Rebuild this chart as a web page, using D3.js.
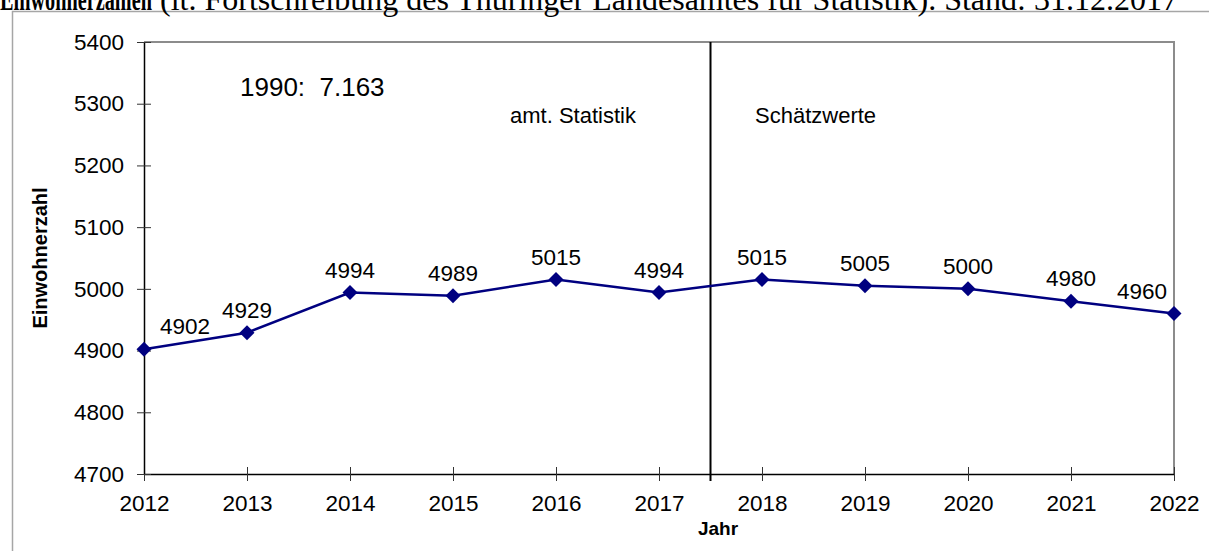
<!DOCTYPE html>
<html>
<head>
<meta charset="utf-8">
<script src="https://cdn.jsdelivr.net/npm/d3@7"></script>
<style>
  body { margin: 0; background: #fff; }
  svg { display: block; }
  text { font-family: "Liberation Sans", Arial, sans-serif; fill: #000; }
</style>
</head>
<body>
<svg id="canvas"></svg>
<script>
// data
const years = [2012, 2013, 2014, 2015, 2016, 2017, 2018, 2019, 2020, 2021, 2022]
const einwohner = [4902, 4929, 4994, 4989, 5015, 4994, 5015, 5005, 5000, 4980, 4960]
const yTicks = [4700, 4800, 4900, 5000, 5100, 5200, 5300, 5400]
const titleBold = "Einwohnerzahlen"
const titleRest = "(lt. Fortschreibung des Thüringer Landesamtes für Statistik). Stand: 31.12.2017"
const note1990 = "1990:  7.163"
const leftSection = "amt. Statistik"
const rightSection = "Schätzwerte"

// label nudges so they stay inside the frame like in the original
const labelDx = { 2012: 41, 2022: -32 }

const width = 1209
const height = 551
const margin = { top: 42, right: 35, bottom: 77, left: 144 }

let canvas = d3.select("#canvas")
canvas.attr("width", width).attr("height", height)

let xScale = d3.scaleLinear()
    .domain([years[0], years[years.length - 1]])
    .range([margin.left, width - margin.right])

let yScale = d3.scaleLinear()
    .domain([4700, 5400])
    .range([height - margin.bottom, margin.top])

let drawFrame = () => {
    // outer frame (only top and left visible)
    canvas.append("path")
        .attr("d", `M12.5,${height} L12.5,11.5 L${width},11.5`)
        .attr("fill", "none")
        .attr("stroke", "#a6a6a6")
        .attr("stroke-width", 1.5)

    // title, cut off at the top; the bold part is squeezed in the original
    canvas.append("text")
        .attr("x", 0)
        .attr("y", 10)
        .attr("font-weight", "bold")
        .attr("textLength", 152)
        .attr("lengthAdjust", "spacingAndGlyphs")
        .style("font-family", "'Liberation Serif', 'Times New Roman', serif")
        .style("font-size", "31px")
        .text(titleBold)
    canvas.append("text")
        .attr("x", 160)
        .attr("y", 10)
        .style("font-family", "'Liberation Serif', 'Times New Roman', serif")
        .style("font-size", "32px")
        .text(titleRest)

    // grey top and right border of the plot area
    canvas.append("path")
        .attr("d", `M${margin.left},${margin.top} L${width - margin.right},${margin.top} L${width - margin.right},${height - margin.bottom}`)
        .attr("fill", "none")
        .attr("stroke", "#8c8c8c")
        .attr("stroke-width", 2)
}

let drawAxes = () => {
    let xAxis = d3.axisBottom(xScale)
        .tickValues(years)
        .tickFormat(d3.format("d"))
        .tickSizeInner(7)
        .tickSizeOuter(0)
        .tickPadding(14)

    let yAxis = d3.axisLeft(yScale)
        .tickValues(yTicks)
        .tickFormat(d3.format("d"))
        .tickSizeInner(7)
        .tickSizeOuter(0)
        .tickPadding(13)

    let gx = canvas.append("g")
        .attr("transform", `translate(0, ${height - margin.bottom})`)
        .call(xAxis)
    let gy = canvas.append("g")
        .attr("transform", `translate(${margin.left}, 0)`)
        .call(yAxis)

    for (let g of [gx, gy]) {
        g.select(".domain").attr("stroke", "#000").attr("stroke-width", 1.5)
        g.selectAll(".tick line").attr("stroke", "#333")
        g.selectAll(".tick text")
            .attr("fill", "#000")
            .style("font-size", "22.5px")
            .style("font-family", "'Liberation Sans', Arial, sans-serif")
    }
    // ticks cross the axis line
    gx.selectAll(".tick line").attr("y1", -7)
    gy.selectAll(".tick line").attr("x1", 7)

    canvas.append("text")
        .attr("x", 718)
        .attr("y", 535)
        .attr("text-anchor", "middle")
        .attr("font-weight", "bold")
        .style("font-size", "19px")
        .text("Jahr")

    canvas.append("text")
        .attr("transform", `translate(47, ${(margin.top + height - margin.bottom) / 2}) rotate(-90)`)
        .attr("text-anchor", "middle")
        .attr("font-weight", "bold")
        .style("font-size", "20px")
        .text("Einwohnerzahl")
}

let drawDivider = () => {
    let xMid = (xScale(2017) + xScale(2018)) / 2
    canvas.append("line")
        .attr("x1", xMid).attr("x2", xMid)
        .attr("y1", margin.top).attr("y2", height - margin.bottom + 7)
        .attr("stroke", "#000")
        .attr("stroke-width", 2)

    canvas.append("text")
        .attr("x", 240).attr("y", 96)
        .style("font-size", "26px")
        .style("white-space", "pre")
        .text(note1990)
    canvas.append("text")
        .attr("x", 510).attr("y", 123)
        .style("font-size", "22px")
        .text(leftSection)
    canvas.append("text")
        .attr("x", 755).attr("y", 123)
        .style("font-size", "22px")
        .text(rightSection)
}

let drawLine = () => {
    let points = years.map((y, i) => ({ year: y, value: einwohner[i] }))

    let line = d3.line()
        .x(d => xScale(d.year))
        .y(d => yScale(d.value))

    canvas.append("path")
        .datum(points)
        .attr("d", line)
        .attr("fill", "none")
        .attr("stroke", "#000080")
        .attr("stroke-width", 2.5)

    canvas.selectAll(".marker")
        .data(points)
        .enter()
        .append("path")
        .attr("class", "marker")
        .attr("d", d3.symbol(d3.symbolSquare, 112))
        .attr("transform", d => `translate(${xScale(d.year)}, ${yScale(d.value)}) rotate(45)`)
        .attr("fill", "#000080")

    canvas.selectAll(".value-label")
        .data(points)
        .enter()
        .append("text")
        .attr("class", "value-label")
        .attr("x", d => xScale(d.year) + (labelDx[d.year] || 0))
        .attr("y", d => yScale(d.value) - 15)
        .attr("text-anchor", "middle")
        .style("font-size", "22.5px")
        .text(d => d.value)
}

drawFrame()
drawAxes()
drawDivider()
drawLine()
</script>
</body>
</html>
